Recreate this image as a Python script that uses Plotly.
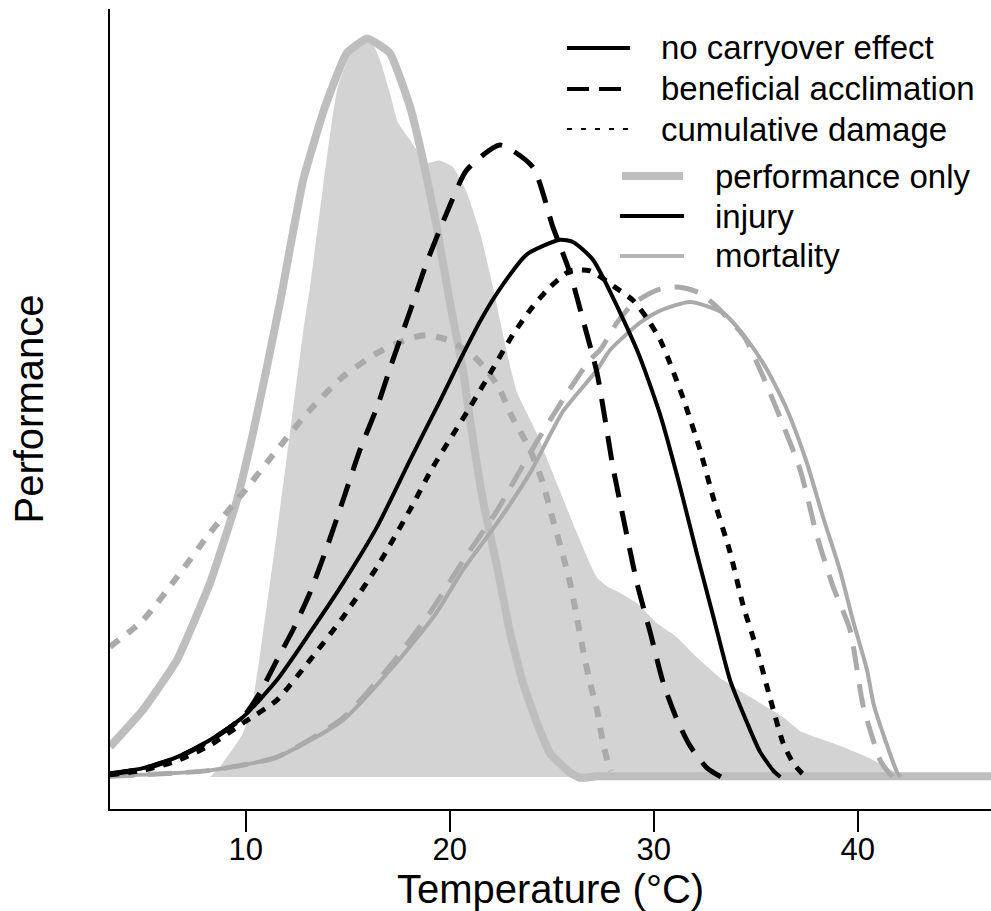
import plotly.graph_objects as go

# ---------------- data ----------------
# temperature distribution (shaded area)
dist_x = [8.25, 8.74, 9.87, 10.36, 10.85, 11.53, 12.17, 12.81, 13.15, 13.79, 14.52, 15.3, 16.1,
          16.58, 17.07, 17.47, 18.05, 18.87, 19.5, 20.16, 20.85, 21.49, 22.12, 22.81, 23.3, 24.26,
          25.25, 26.23, 27.21, 27.8, 28.19, 29.17, 30.15, 31.13, 32.11, 33.4, 34.72, 36.34, 37.18,
          38.78, 40.45, 41.92, 42.1]
dist_y = [0, 1.4, 5.9, 10.4, 19.5, 33.0, 46.5, 60.0, 66.2, 79.7, 93.3, 98.5, 99.6,
          96.9, 92.4, 88.4, 86.1, 83.0, 83.3, 82.4, 78.9, 73.5, 66.2, 57.3, 52.0, 46.5,
          39.7, 33.0, 27.0, 25.6, 25.1, 23.5, 20.8, 18.9, 16.2, 13.1, 10.8, 8.1, 6.2,
          4.6, 2.7, 0.5, 0]

# performance only - no carryover effect (thick gray solid)
perf_none_x = [3.35, 4.97, 6.63, 8.25, 9.57, 10.36, 11.04, 11.68, 12.82, 13.89, 14.95, 15.96,
               17.07, 18.05, 18.69, 19.36, 20.01, 20.65, 21.0, 21.63, 22.32, 22.96, 23.59, 24.28,
               24.92, 25.41, 25.9, 26.39, 27.2, 30.0, 47.0]
perf_none_y = [4.1, 9.1, 15.8, 26.2, 37.4, 46.5, 55.4, 64.1, 80.7, 90.6, 97.8, 99.8,
               97.8, 90.6, 83.4, 74.4, 64.1, 55.0, 48.2, 37.4, 28.4, 19.5, 12.7, 7.3,
               3.2, 1.8, 0.6, -0.1, 0.1, 0.1, 0.1]

# performance only - cumulative damage (gray dotted)
perf_cum_x = [3.35, 4.97, 6.63, 8.25, 9.87, 11.53, 13.15, 14.77, 16.44, 18.05, 18.87, 19.85,
              21.0, 21.81, 22.47, 22.96, 23.94, 24.57, 25.06, 25.48, 25.9, 26.23, 26.53, 26.88,
              27.22, 27.51, 27.76, 27.9]
perf_cum_y = [17.6, 21.2, 27.0, 33.0, 38.4, 44.2, 49.6, 54.1, 57.3, 59.3, 59.7, 59.1,
              57.3, 55.0, 52.3, 49.2, 44.2, 39.7, 34.7, 30.7, 26.2, 21.6, 17.2, 12.7,
              9.1, 4.6, 1.9, 0.8]

# injury - no carryover effect (black solid)
inj_none_x = [3.35, 4.97, 6.63, 8.25, 9.87, 11.53, 13.15, 14.77, 16.44, 18.05, 19.52, 20.5,
              21.49, 22.47, 23.77, 25.41, 26.04, 27.02, 29.18, 30.31, 31.29, 32.13, 32.91,
              33.74, 34.58, 35.21, 35.85, 36.2]
inj_none_y = [0.5, 1.2, 2.7, 5.0, 8.1, 13.1, 19.5, 26.2, 33.8, 42.8, 50.8, 56.3,
              61.6, 66.0, 70.6, 72.6, 72.3, 69.9, 57.7, 49.0, 39.2, 30.0, 21.8,
              13.1, 7.3, 3.4, 0.9, 0]

# injury - beneficial acclimation (black dashed)
inj_acc_x = [3.35, 4.97, 6.63, 8.25, 9.87, 10.7, 11.53, 12.32, 13.15, 13.99, 14.77, 15.6,
             16.44, 17.22, 18.05, 18.87, 19.85, 20.83, 22.47, 24.08, 25.06, 25.9, 26.53, 27.22,
             27.61, 28.0, 28.5, 29.18, 29.83, 30.47, 31.15, 31.78, 32.62, 33.3]
inj_acc_y = [0.4, 1.1, 2.6, 4.9, 8.1, 11.4, 15.8, 19.9, 24.9, 31.1, 37.4, 44.2,
             50.0, 56.4, 62.9, 69.5, 76.2, 82.0, 85.4, 82.4, 74.3, 68.1, 61.8, 54.6,
             48.4, 41.9, 35.1, 26.2, 19.5, 12.7, 7.7, 4.2, 1.2, 0]

# injury - cumulative damage (black dotted)
inj_cum_x = [3.35, 4.97, 6.63, 8.25, 9.87, 11.53, 13.15, 14.77, 16.44, 18.05, 19.18, 21.0,
             22.12, 23.1, 24.08, 24.92, 25.9, 26.88, 28.2, 28.99, 29.67, 30.31, 30.8, 31.44,
             32.27, 32.91, 33.74, 34.38, 35.06, 35.7, 36.34, 36.83, 37.27, 37.5]
inj_cum_y = [0.3, 0.9, 2.2, 4.3, 7.3, 10.4, 15.8, 21.6, 28.4, 36.1, 41.9, 50.0,
             55.2, 59.8, 63.6, 66.2, 68.4, 68.4, 66.0, 64.4, 62.0, 59.1, 55.9, 51.2,
             44.2, 37.8, 30.4, 23.2, 17.2, 10.7, 4.6, 1.9, 0.5, 0]

# mortality - no carryover effect (gray thin solid)
mort_none_x = [3.35, 8.25, 11.53, 14.77, 17.22, 19.3, 20.65, 22.32, 23.94, 25.55, 27.22, 27.86,
               29.33, 30.31, 31.78, 33.4, 34.58, 35.56, 36.54, 37.51, 38.29, 39.12, 39.76,
               40.45, 40.8, 41.92, 42.1]
mort_none_y = [0.1, 0.9, 2.7, 7.7, 14.9, 22.0, 28.0, 34.3, 41.1, 49.4, 55.0, 57.7,
               61.4, 63.0, 64.2, 62.7, 59.1, 55.0, 49.6, 42.4, 35.2, 28.0, 21.2,
               14.5, 9.6, 0.7, 0]

# mortality - beneficial acclimation (gray dashed)
mort_acc_x = [3.35, 8.25, 11.53, 14.77, 17.22, 19.03, 20.65, 22.32, 23.94, 25.55, 26.88, 27.37,
              28.2, 29.0, 30.16, 31.15, 32.27, 33.1, 34.43, 35.36, 36.19, 37.18, 38.0, 38.78,
              39.62, 40.26, 41.09, 41.43, 41.7]
mort_acc_y = [0.1, 0.9, 2.7, 8.0, 15.5, 22.2, 29.2, 36.0, 43.8, 51.0, 56.4, 57.7,
              61.4, 64.0, 65.8, 66.2, 65.4, 63.5, 59.5, 54.1, 48.6, 41.5, 32.6, 25.8,
              19.9, 9.7, 2.3, 0.9, 0]

x_ticks = [10, 20, 30, 40]
legend_types = ["no carryover effect", "beneficial acclimation", "cumulative damage"]
legend_vars = ["performance only", "injury", "mortality"]

# ---------------- styling ----------------
FILL = "#d3d3d3"
GRAY = "#bebebe"
DGRAY = "#aaaaaa"
FONT = "Arial, Liberation Sans, sans-serif"
SM = 0.6

fig = go.Figure()

fig.add_trace(go.Scatter(x=dist_x, y=dist_y, mode="lines", fill="tozeroy",
                         fillcolor=FILL, line=dict(width=0, color=FILL, shape="spline",
                                                   smoothing=0.5),
                         hoverinfo="skip"))
fig.add_trace(go.Scatter(x=perf_none_x, y=perf_none_y, mode="lines",
                         line=dict(color=GRAY, width=8, shape="spline", smoothing=0.4)))
fig.add_trace(go.Scatter(x=perf_cum_x, y=perf_cum_y, mode="lines",
                         line=dict(color=DGRAY, width=6, dash="11px,11px",
                                   shape="spline", smoothing=SM)))
fig.add_trace(go.Scatter(x=mort_none_x, y=mort_none_y, mode="lines",
                         line=dict(color=DGRAY, width=4, shape="spline", smoothing=SM)))
fig.add_trace(go.Scatter(x=mort_acc_x, y=mort_acc_y, mode="lines",
                         line=dict(color=DGRAY, width=5, dash="24px,14px",
                                   shape="spline", smoothing=SM)))
fig.add_trace(go.Scatter(x=inj_none_x, y=inj_none_y, mode="lines",
                         line=dict(color="black", width=4, shape="spline", smoothing=SM)))
fig.add_trace(go.Scatter(x=inj_acc_x, y=inj_acc_y, mode="lines",
                         line=dict(color="black", width=5, dash="24px,14px",
                                   shape="spline", smoothing=SM)))
fig.add_trace(go.Scatter(x=inj_cum_x, y=inj_cum_y, mode="lines",
                         line=dict(color="black", width=5, dash="9px,9px",
                                   shape="spline", smoothing=SM)))

# ---------------- legend drawn manually (two groups) ----------------
W, H = 991, 911
ML, MR, MT, MB = 110, 0, 9, 102
PW, PH = W - ML - MR, H - MT - MB


def px(xpix):
    return (xpix - ML) / PW


def py(ypix):
    return (H - MB - ypix) / PH


shapes = []
annots = []
type_styles = [dict(color="black", width=4, dash="solid"),
               dict(color="black", width=4, dash="22px,10px"),
               dict(color="black", width=2, dash="5px,9px")]
type_rows = [48, 89, 129]
for lab, st, yy in zip(legend_types, type_styles, type_rows):
    shapes.append(dict(type="line", xref="paper", yref="paper", x0=px(567), x1=px(630),
                       y0=py(yy), y1=py(yy), line=st))
    annots.append(dict(text=lab, xref="paper", yref="paper", x=px(659), y=py(yy),
                       xanchor="left", yanchor="middle", showarrow=False,
                       font=dict(size=33, color="black", family=FONT)))

var_styles = [dict(color=GRAY, width=8), dict(color="black", width=4),
              dict(color="#b4b4b4", width=4)]
var_rows = [176, 216, 256]
var_x = [(622, 683), (620, 684), (620, 684)]
for lab, st, yy, (xa, xb) in zip(legend_vars, var_styles, var_rows, var_x):
    shapes.append(dict(type="line", xref="paper", yref="paper", x0=px(xa), x1=px(xb),
                       y0=py(yy), y1=py(yy), line=st))
    annots.append(dict(text=lab, xref="paper", yref="paper", x=px(713), y=py(yy),
                       xanchor="left", yanchor="middle", showarrow=False,
                       font=dict(size=33, color="black", family=FONT)))

fig.update_layout(
    width=W, height=H, autosize=False,
    margin=dict(l=ML, r=MR, t=MT, b=MB, pad=0),
    paper_bgcolor="white", plot_bgcolor="white",
    showlegend=False,
    font=dict(family=FONT, color="black"),
    shapes=shapes, annotations=annots,
    xaxis=dict(range=[3.35, 46.53], showgrid=False, zeroline=False,
               showline=True, linecolor="black", linewidth=2,
               ticks="outside", ticklen=21, tickwidth=2, tickcolor="black",
               tickvals=x_ticks, ticktext=[str(v) for v in x_ticks],
               ticklabelstandoff=-9,
               tickfont=dict(size=31, color="black", family=FONT),
               title=dict(text="Temperature (°C)", font=dict(size=40, color="black", family=FONT),
                          standoff=8)),
    yaxis=dict(range=[-4.32, 103.78], showgrid=False, zeroline=False,
               showline=True, linecolor="black", linewidth=2,
               ticks="", showticklabels=False,
               title=dict(text="Performance", font=dict(size=40, color="black", family=FONT),
                          standoff=52)),
)

fig.write_html("out.html")
